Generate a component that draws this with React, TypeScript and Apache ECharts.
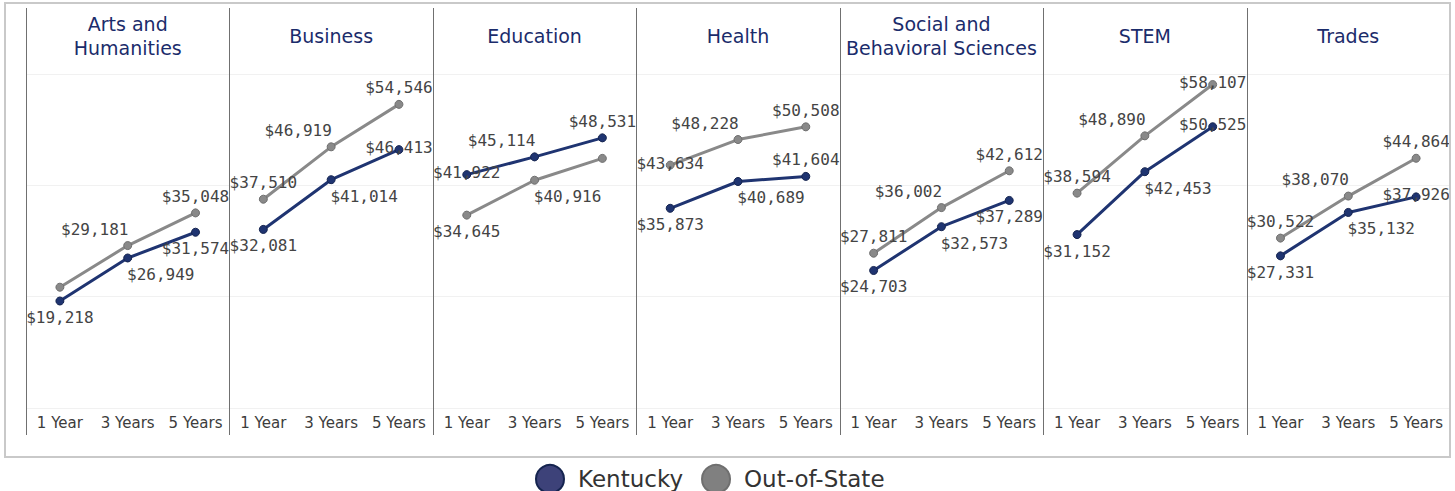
import React, { useEffect, useRef } from "react";
import * as echarts from "echarts";

// ---- data ----
const fields = [
  "Arts and\nHumanities",
  "Business",
  "Education",
  "Health",
  "Social and\nBehavioral Sciences",
  "STEM",
  "Trades",
];
const periods = ["1 Year", "3 Years", "5 Years"];
const kentucky = [
  [19218, 26949, 31574],
  [32081, 41014, 46413],
  [41922, 45114, 48531],
  [35873, 40689, 41604],
  [24703, 32573, 37289],
  [31152, 42453, 50525],
  [27331, 35132, 37926],
];
const outOfState = [
  [21700, 29181, 35048],
  [37510, 46919, 54546],
  [34645, 40916, 44840],
  [43634, 48228, 50508],
  [27811, 36002, 42612],
  [38594, 48890, 58107],
  [30522, 38070, 44864],
];
const yTicks = [0, 20000, 40000, 60000];

// ---- label placement (layout, not data) ----
const kyLabelPos = [
  ["BC", "BR", "BC"],
  ["BC", "BR", "MC"],
  ["MC", "TL", "TC"],
  ["BC", "BR", "TC"],
  ["BC", "BR", "BC"],
  ["BC", "BR", "MC"],
  ["BC", "BR", "MC"],
];
const oosLabelPos = [
  ["-", "TL", "TC"],
  ["TC", "TL", "TC"],
  ["BC", "BR", "-"],
  ["MC", "TL", "TC"],
  ["TC", "TL", "TC"],
  ["TC", "TL", "MC"],
  ["TC", "TL", "TC"],
];

const KY_COLOR = "#1f3471";
const OOS_COLOR = "#898989";
const LABEL_FONT = "'DejaVu Sans Mono', monospace";
const SANS = "'DejaVu Sans', sans-serif";

const PANEL_LEFT = 26;
const PANEL_W = (1450 - 26) / 7;
const GRID_TOP = 74;
const GRID_BOTTOM = 408;

function labelFor(code: string) {
  if (code === "-") return { show: false };
  const v = code[0];
  const h = code[1];
  const dx = h === "L" ? -33 : h === "R" ? 33 : 0;
  if (v === "M") return { show: true, position: "inside", offset: [dx, -2] };
  return { show: true, position: v === "T" ? "top" : "bottom", distance: 4, offset: [dx, 0] };
}

export default function App() {
  const ref = useRef<HTMLDivElement>(null);
  useEffect(() => {
    if (!ref.current) return;
    const chart = echarts.init(ref.current, undefined, { renderer: "svg" });

    const grids: any[] = [];
    const xAxes: any[] = [];
    const yAxes: any[] = [];
    const series: any[] = [];
    const graphics: any[] = [];

    fields.forEach((f, i) => {
      const left = PANEL_LEFT + PANEL_W * i;
      grids.push({ left, width: PANEL_W, top: GRID_TOP, height: GRID_BOTTOM - GRID_TOP });
      xAxes.push({
        gridIndex: i,
        type: "category",
        data: periods,
        boundaryGap: true,
        axisLine: { show: false },
        axisTick: { show: false },
        axisLabel: {
          interval: 0,
          color: "#3c3c3c",
          fontSize: 15,
          fontFamily: SANS,
          margin: 7,
          hideOverlap: false,
        },
      });
      yAxes.push({
        gridIndex: i,
        type: "value",
        min: yTicks[0],
        max: yTicks[yTicks.length - 1],
        interval: yTicks[1] - yTicks[0],
        axisLabel: { show: false },
        axisLine: { show: false },
        axisTick: { show: false },
        splitLine: { show: true, lineStyle: { color: "#f1f1f1", width: 1 } },
      });
      const mk = (name: string, vals: number[], pos: string[], color: string, border: string, z: number) => ({
        type: "line",
        name,
        xAxisIndex: i,
        yAxisIndex: i,
        z,
        data: vals.map((v, k) => ({ value: v, label: labelFor(pos[k]) })),
        symbol: "circle",
        symbolSize: 8,
        lineStyle: { color, width: 3 },
        itemStyle: { color, borderColor: border, borderWidth: 1 },
        label: {
          color: "#444444",
          fontSize: 16,
          fontFamily: LABEL_FONT,
          formatter: (p: any) => "$" + Number(p.value).toLocaleString("en-US"),
        },
        emphasis: { disabled: true },
      });
      series.push(mk("Out-of-State", outOfState[i], oosLabelPos[i], OOS_COLOR, "#6f6f6f", 2));
      series.push(mk("Kentucky", kentucky[i], kyLabelPos[i], KY_COLOR, "#15244f", 3));

      graphics.push({
        type: "text",
        x: left + PANEL_W / 2,
        y: 36,
        z: 10,
        style: {
          text: f,
          fill: "#1b2c6b",
          fontSize: 19,
          fontFamily: SANS,
          align: "center",
          verticalAlign: "middle",
          lineHeight: 24,
        },
      });
      graphics.push({
        type: "line",
        z: 10,
        shape: { x1: Math.round(left) + 0.5, y1: 8, x2: Math.round(left) + 0.5, y2: 435 },
        style: { stroke: "#707070", lineWidth: 1 },
      });
    });

    // clip overflow on right, then outer border
    graphics.push({
      type: "rect",
      z: 50,
      shape: { x: 1450, y: 0, width: 10, height: 491 },
      style: { fill: "#ffffff" },
    });
    graphics.push({
      type: "rect",
      z: 60,
      shape: { x: 5, y: 3, width: 1445, height: 454 },
      style: { fill: "none", stroke: "#c9c9c9", lineWidth: 2 },
    });

    chart.setOption({
      animation: false,
      backgroundColor: "#ffffff",
      grid: grids,
      xAxis: xAxes,
      yAxis: yAxes,
      series,
      legend: {
        left: 530,
        top: 459,
        itemWidth: 28,
        itemHeight: 28,
        itemGap: 18,
        icon: "circle",
        data: [
          { name: "Kentucky", itemStyle: { color: "#3d4279" } },
          { name: "Out-of-State", itemStyle: { color: "#808080" } },
        ],
        textStyle: {
          color: "#333333",
          fontSize: 23,
          lineHeight: 26,
          fontFamily: SANS,
          padding: [0, 0, 0, 9],
        },
        selectedMode: false,
      },
      graphic: graphics,
    });
    return () => chart.dispose();
  }, []);
  return (
    <div
      ref={ref}
      style={{ position: "fixed", left: 0, top: 0, width: 1455, height: 491 }}
    />
  );
}
